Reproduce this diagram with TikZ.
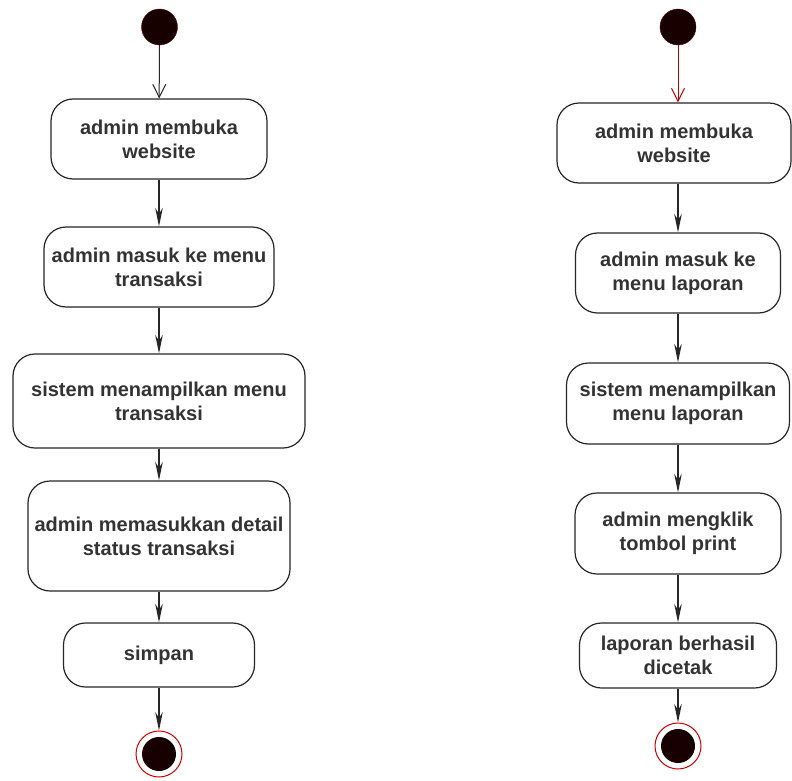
\documentclass[tikz,border=0pt]{standalone}
\usepackage{fontspec}
\setmainfont{Liberation Sans}
\usetikzlibrary{arrows.meta}

\begin{document}
\begin{tikzpicture}[x=1pt,y=1pt,
	act/.style={draw=black!85,line width=1.2pt,rounded corners=22pt,fill=white,align=center,inner sep=0pt,
		font=\fontsize{20}{24}\selectfont\bfseries,text=black!80},
	init/.style={circle,fill=black!90!red,draw=red!35!black,minimum size=36pt,inner sep=0pt},
	final/.style={circle,draw=red!80!black,line width=1pt,fill=white,minimum size=46pt,inner sep=0pt},
	dot/.style={circle,fill=black!90!red,minimum size=34pt,inner sep=0pt},
	flow/.style={-{Stealth[scale=2.2,scale width=1.2]},line width=1.2pt,black!85},
	openflow/.style={-{Straight Barb[length=13pt,width=13pt]},line width=1pt}]
	\useasboundingbox (0,0) rectangle (792,-781);

	\node[init] (sL) at (159.5,-27) {};
	\node[act,minimum width=216pt,minimum height=80pt] (L1) at (159,-139) {admin membuka\\website};
	\node[act,minimum width=230pt,minimum height=80pt] (L2) at (159,-267) {admin masuk ke menu\\transaksi};
	\node[act,minimum width=292pt,minimum height=94pt] (L3) at (159,-401) {sistem menampilkan menu\\transaksi};
	\node[act,minimum width=262pt,minimum height=110pt] (L4) at (159,-536) {admin memasukkan detail\\status transaksi};
	\node[act,minimum width=191pt,minimum height=64pt] (L5) at (159,-655) {simpan};
	\node[final] (eL) at (159,-754) {};
	\node[dot] (eLd) at (eL) {};

	\node[init] (sR) at (678,-27) {};
	\node[act,minimum width=234pt,minimum height=80pt] (R1) at (674,-143) {admin membuka\\website};
	\node[act,minimum width=205pt,minimum height=80pt] (R2) at (678,-273) {admin masuk ke\\menu laporan};
	\node[act,minimum width=223pt,minimum height=81pt] (R3) at (678,-403.5) {sistem menampilkan\\menu laporan};
	\node[act,minimum width=206pt,minimum height=81pt] (R4) at (678,-533.5) {admin mengklik\\tombol print};
	\node[act,minimum width=197pt,minimum height=65pt] (R5) at (678,-655.5) {laporan berhasil\\dicetak};
	\node[final] (eR) at (678,-746) {};
	\node[dot] (eRd) at (eR) {};

	\draw[openflow,black!85] (sL) -- (L1);
	\path[flow] (L1) edge (L2)
	(L2) edge (L3)
	(L3) edge (L4)
	(L4) edge (L5)
	(L5) edge (eL)
	;

	\draw[openflow,red!75!black] (sR) -- (sR |- R1.north);
	\path[flow] (R2 |- R1.south) edge (R2)
	(R2) edge (R3)
	(R3) edge (R4)
	(R4) edge (R5)
	(R5) edge (eR)
	;
\end{tikzpicture}
\end{document}
